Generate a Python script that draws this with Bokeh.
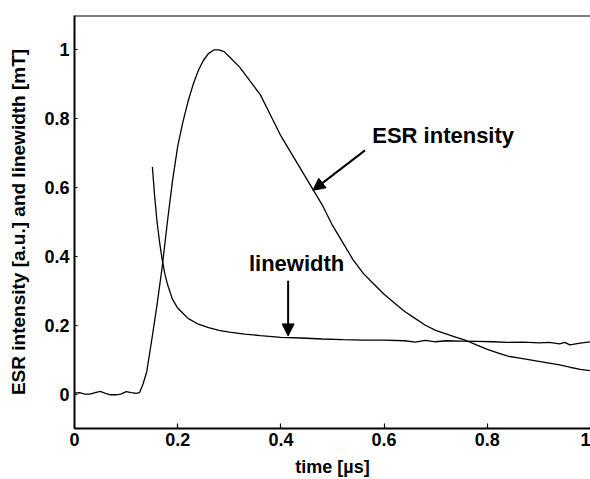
from bokeh.plotting import figure
from bokeh.models import Arrow, NormalHead, Label, FixedTicker, Span
from bokeh.embed import file_html
from bokeh.resources import INLINE

# ESR intensity (a.u.) vs time (us)
esr_t = [0, 0.01, 0.02, 0.03, 0.04, 0.05, 0.06, 0.07, 0.08, 0.09, 0.10, 0.11, 0.12,
         0.126, 0.133, 0.14, 0.15, 0.16, 0.17, 0.18, 0.19, 0.20, 0.21, 0.22, 0.23,
         0.24, 0.25, 0.26, 0.27, 0.28, 0.29, 0.30, 0.32, 0.34, 0.36, 0.38, 0.40,
         0.42, 0.44, 0.46, 0.48, 0.50, 0.52, 0.54, 0.56, 0.58, 0.60, 0.62, 0.64,
         0.66, 0.68, 0.70, 0.72, 0.74, 0.76, 0.78, 0.80, 0.82, 0.84, 0.86, 0.88,
         0.90, 0.92, 0.94, 0.96, 0.98, 1.0]
esr_v = [0.003, 0.004, 0.0, 0.0, 0.004, 0.008, 0.002, -0.002, -0.002, 0.0, 0.007,
         0.004, 0.002, 0.004, 0.03, 0.065, 0.16, 0.26, 0.37, 0.50, 0.62, 0.72, 0.79,
         0.85, 0.90, 0.94, 0.97, 0.99, 1.0, 1.0, 0.995, 0.98, 0.95, 0.91, 0.87, 0.81,
         0.75, 0.70, 0.65, 0.60, 0.55, 0.49, 0.44, 0.39, 0.35, 0.32, 0.29, 0.265,
         0.24, 0.22, 0.20, 0.185, 0.175, 0.165, 0.155, 0.142, 0.13, 0.12, 0.11,
         0.105, 0.10, 0.095, 0.09, 0.085, 0.078, 0.072, 0.068]

# Linewidth (mT) vs time (us)
lw_t = [0.151, 0.155, 0.16, 0.165, 0.17, 0.175, 0.18, 0.19, 0.20, 0.21, 0.22, 0.24,
        0.26, 0.28, 0.30, 0.33, 0.36, 0.40, 0.44, 0.48, 0.52, 0.56, 0.60, 0.64, 0.66,
        0.68, 0.70, 0.72, 0.75, 0.78, 0.81, 0.84, 0.87, 0.90, 0.92, 0.94, 0.95, 0.96,
        0.98, 1.0]
lw_v = [0.66, 0.58, 0.50, 0.44, 0.39, 0.35, 0.32, 0.275, 0.25, 0.235, 0.22, 0.203,
        0.193, 0.185, 0.18, 0.174, 0.17, 0.165, 0.163, 0.16, 0.158, 0.157, 0.157,
        0.155, 0.151, 0.156, 0.152, 0.155, 0.154, 0.153, 0.152, 0.150, 0.151, 0.149,
        0.150, 0.146, 0.150, 0.143, 0.148, 0.152]

x_ticks = [0, 0.2, 0.4, 0.6, 0.8, 1.0]
x_tick_labels = ["0", "0.2", "0.4", "0.6", "0.8", "1"]
y_ticks = [0, 0.2, 0.4, 0.6, 0.8, 1.0]
y_tick_labels = ["0", "0.2", "0.4", "0.6", "0.8", "1"]

FONT = "Liberation Sans"

p = figure(width=590, height=479, x_range=(0, 1), y_range=(-0.1, 1.1),
           output_backend="svg", toolbar_location=None,
           min_border_left=74, min_border_right=0, min_border_top=15,
           min_border_bottom=51)
p.grid.visible = False
p.outline_line_color = None
p.background_fill_color = "white"
p.border_fill_color = "white"

p.line(esr_t, esr_v, line_color="black", line_width=1.3)
p.line(lw_t, lw_v, line_color="black", line_width=1.3)

p.add_layout(Span(location=1.1, dimension="width", line_color="black", line_width=2))

for ax, ticks, labels in ((p.xaxis[0], x_ticks, x_tick_labels), (p.yaxis[0], y_ticks, y_tick_labels)):
    ax.ticker = FixedTicker(ticks=ticks)
    ax.major_label_overrides = {t: l for t, l in zip(ticks, labels)}
    ax.minor_tick_line_color = None
    ax.major_tick_out = 0
    ax.axis_line_width = 2
    ax.axis_line_color = "black"
    ax.major_tick_line_color = "black"
    ax.major_tick_line_width = 1.2
    ax.major_label_text_font = FONT
    ax.major_label_text_font_style = "bold"
    ax.major_label_text_font_size = "18px"
    ax.major_label_text_color = "black"
    ax.axis_label_text_font = FONT
    ax.axis_label_text_font_style = "bold"
    ax.axis_label_text_color = "black"

p.xaxis.major_tick_in = 5
p.yaxis.major_tick_in = 3
p.xaxis.axis_label = "time [\u00b5s]"
p.xaxis.axis_label_text_font_size = "18px"
p.xaxis.major_label_standoff = 4
p.xaxis.axis_label_standoff = 8
p.yaxis.axis_label = "ESR intensity [a.u.] and linewidth [mT]"
p.yaxis.axis_label_text_font_size = "19px"
p.yaxis.major_label_standoff = 5
p.yaxis.axis_label_standoff = 12

# annotations
p.add_layout(Label(x=0.577, y=0.752, text="ESR intensity", text_font=FONT,
                   text_font_style="bold", text_font_size="22px",
                   text_baseline="middle", text_color="black"))
p.add_layout(Label(x=0.338, y=0.379, text="linewidth", text_font=FONT,
                   text_font_style="bold", text_font_size="22px",
                   text_baseline="middle", text_color="black"))
p.add_layout(Arrow(x_start=0.563, y_start=0.708, x_end=0.462, y_end=0.592,
                   line_color="black", line_width=2,
                   end=NormalHead(size=12, fill_color="black", line_color="black")))
p.add_layout(Arrow(x_start=0.414, y_start=0.329, x_end=0.414, y_end=0.169,
                   line_color="black", line_width=2,
                   end=NormalHead(size=12, fill_color="black", line_color="black")))

open("out.html", "w").write(file_html(p, INLINE))
